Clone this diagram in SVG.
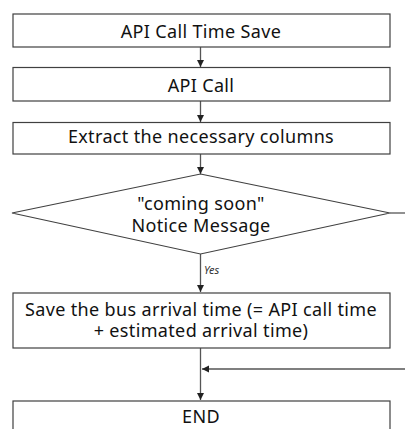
<svg xmlns="http://www.w3.org/2000/svg" width="405" height="429" viewBox="0 0 405 429">
<defs>
<style>
.box{fill:#fff;stroke:#404040;stroke-width:1.2}
.t{font-family:"Noto Sans","Liberation Sans",sans-serif;font-size:18px;letter-spacing:0.35px;fill:#111;text-anchor:middle}
.c{stroke:#555;stroke-width:1.3;fill:none}
.lbl{font-family:"Noto Sans","Liberation Sans",sans-serif;font-size:11px;font-style:italic;fill:#333}
</style>
<marker id="ah" markerWidth="8" markerHeight="8" refX="7" refY="4" orient="auto" markerUnits="userSpaceOnUse">
<path d="M0,0.5 L7,4 L0,7.5 Z" fill="#222"/>
</marker>
</defs>
<rect width="405" height="429" fill="#fff"/>
<g id="connectors">
<line class="c" x1="200.5" y1="47" x2="200.5" y2="67" marker-end="url(#ah)"/>
<line class="c" x1="200.5" y1="101" x2="200.5" y2="122" marker-end="url(#ah)"/>
<line class="c" x1="200.5" y1="154" x2="200.5" y2="174" marker-end="url(#ah)"/>
<line class="c" x1="200.5" y1="254" x2="200.5" y2="292" stroke="#888" marker-end="url(#ah)"/>
<text class="lbl" x="204" y="274">Yes</text>
<line class="c" x1="390" y1="213" x2="405" y2="213"/>
<line class="c" x1="200.5" y1="348" x2="200.5" y2="400" marker-end="url(#ah)"/>
<line class="c" x1="405" y1="369" x2="202" y2="369" stroke="#777" marker-end="url(#ah)"/>
</g>
<g id="n1"><rect class="box" x="13" y="14" width="377" height="33"/><text class="t" x="201" y="38">API Call Time Save</text></g>
<g id="n2"><rect class="box" x="13" y="67.5" width="377" height="33.5"/><text class="t" x="201" y="91.5">API Call</text></g>
<g id="n3"><rect class="box" x="13" y="122.5" width="377" height="31.5"/><text class="t" x="201" y="143">Extract the necessary columns</text></g>
<g id="n4"><polygon class="box" points="200.5,174 390,213 200.5,254 12,213"/><text class="t" x="201" y="210">"coming soon"</text><text class="t" x="201" y="231.5">Notice Message</text></g>
<g id="n5"><rect class="box" x="13" y="293" width="377" height="55"/><text class="t" x="201" y="316">Save the bus arrival time (= API call time</text><text class="t" x="201" y="337">+ estimated arrival time)</text></g>
<g id="n6"><rect class="box" x="13" y="401" width="377" height="40"/><text class="t" x="201" y="423">END</text></g>
</svg>
